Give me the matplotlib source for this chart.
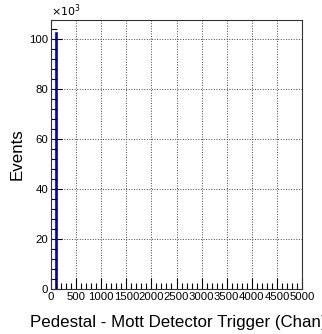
import numpy as np
import matplotlib
matplotlib.use("Agg")
import matplotlib.pyplot as plt
from matplotlib.ticker import MultipleLocator, FuncFormatter

# Data (histogram bins and counts; all other bins are empty)
bin_edges = [90, 110]
counts = [102500]
x_ticks = [0, 500, 1000, 1500, 2000, 2500, 3000, 3500, 4000, 4500, 5000]
x_label = "Pedestal - Mott Detector Trigger (Chan)"
y_label = "Events"

plt.rcParams['font.family'] = ['Liberation Sans', 'DejaVu Sans']

fig = plt.figure(figsize=(3.22, 3.34), dpi=100)
ax = fig.add_axes([51/322, 1 - 289/334, 251/322, 269/334])

ax.stairs(counts, bin_edges, color='#0000cc', linewidth=1.2, baseline=0)

ax.set_xlim(0, 5000)
ax.set_ylim(0, 107600)
ax.set_xticks(x_ticks)
ax.xaxis.set_minor_locator(MultipleLocator(100))
ax.yaxis.set_major_locator(MultipleLocator(20000))
ax.yaxis.set_minor_locator(MultipleLocator(4000))
ax.yaxis.set_major_formatter(FuncFormatter(lambda v, p: f"{int(round(v/1000))}"))

ax.tick_params(which='both', direction='in', top=False, right=False, labelsize=8.2, pad=2)
ax.tick_params(which='major', length=8, width=0.8)
ax.tick_params(which='minor', length=4, width=0.8)
ax.tick_params(axis='x', pad=2)

ax.grid(True, which='major', linestyle=':', color='#444444', linewidth=0.7)
for s in ax.spines.values():
    s.set_linewidth(0.8)
    s.set_color('#333333')

fig.text(30/322, 1 - 323/334, x_label, fontsize=12.2, ha='left', va='center')
fig.text(17/322, 1 - 154/334, y_label, fontsize=12.2, ha='center', va='center', rotation=90)
ax.text(0.0, 1.005, r"$\times10^{3}$", transform=ax.transAxes, fontsize=8,
        ha='left', va='bottom')

fig.savefig("out.png", dpi=100)
